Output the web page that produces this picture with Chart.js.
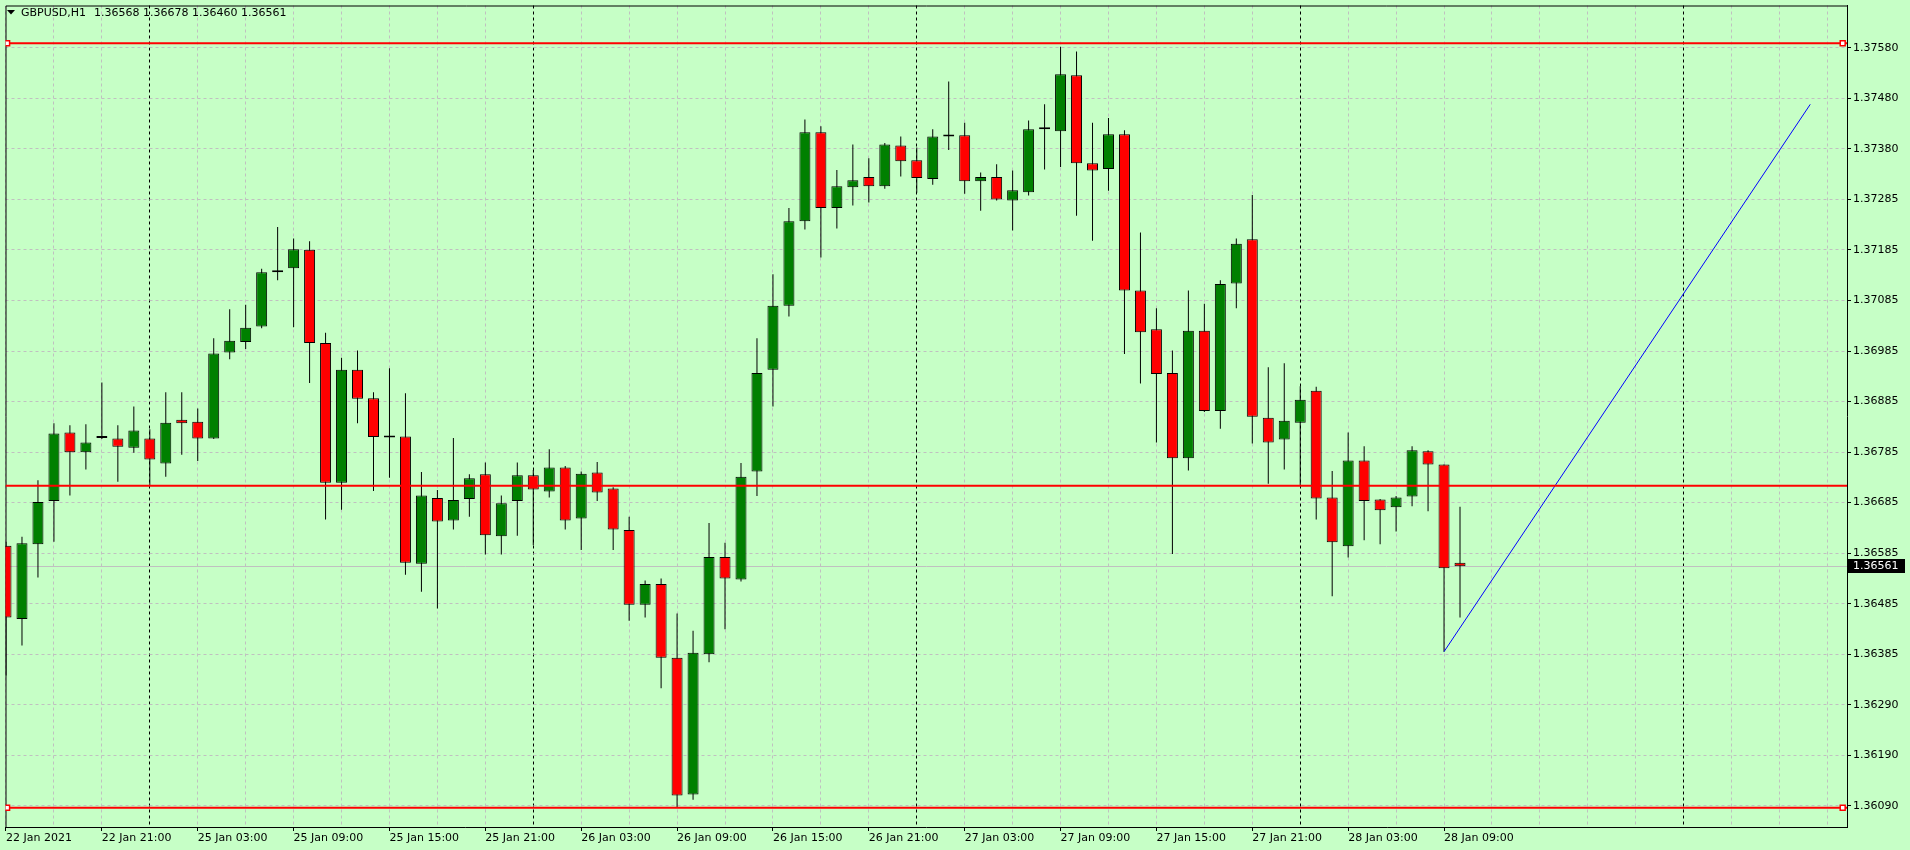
<!DOCTYPE html>
<html>
<head>
<meta charset="utf-8">
<script src="https://cdn.jsdelivr.net/npm/chart.js@4.4.1/dist/chart.umd.min.js"></script>
<style>
    html, body { margin: 0; padding: 0; background: #c6ffc6; }
    #wrap { width: 1910px; height: 850px; }
</style>
</head>
<body>
<div id="wrap"><canvas id="gbpusd"></canvas></div>
<script>
// GBPUSD H1 bars, 22 Jan 15:00 .. 28 Jan 10:00
const openPrices = [
    1.36601, 1.36457, 1.36604, 1.36689, 1.36824, 1.36785, 1.36813, 1.36812, 1.36794, 1.36812,
    1.36763, 1.36849, 1.36845, 1.36812, 1.36981, 1.37002, 1.37032, 1.37139, 1.37147, 1.37183,
    1.37000, 1.36725, 1.36947, 1.36891, 1.36814, 1.36816, 1.36566, 1.36695, 1.36651, 1.36693,
    1.36742, 1.36620, 1.36689, 1.36740, 1.36708, 1.36755, 1.36655, 1.36745, 1.36714, 1.36632,
    1.36485, 1.36526, 1.36381, 1.36112, 1.36388, 1.36579, 1.36535, 1.36747, 1.36947, 1.37073,
    1.37239, 1.37414, 1.37265, 1.37306, 1.37326, 1.37308, 1.37388, 1.37359, 1.37322, 1.37406,
    1.37408, 1.37318, 1.37326, 1.37280, 1.37296, 1.37420, 1.37416, 1.37526, 1.37353, 1.37342,
    1.37410, 1.37103, 1.37027, 1.36941, 1.36773, 1.37024, 1.36866, 1.37117, 1.37204, 1.36853,
    1.36810, 1.36843, 1.36906, 1.36696, 1.36600, 1.36769, 1.36692, 1.36677, 1.36698, 1.36787,
    1.36761, 1.36568
];
const highPrices = [
    1.36609, 1.36619, 1.36730, 1.36842, 1.36838, 1.36840, 1.36922, 1.36838, 1.36875, 1.36830,
    1.36903, 1.36903, 1.36871, 1.37009, 1.37066, 1.37075, 1.37146, 1.37228, 1.37205, 1.37200,
    1.37020, 1.36971, 1.36985, 1.36903, 1.36950, 1.36901, 1.36746, 1.36711, 1.36813, 1.36742,
    1.36765, 1.36700, 1.36765, 1.36750, 1.36791, 1.36758, 1.36747, 1.36766, 1.36716, 1.36658,
    1.36533, 1.36537, 1.36468, 1.36434, 1.36646, 1.36607, 1.36764, 1.37009, 1.37135, 1.37265,
    1.37439, 1.37426, 1.37340, 1.37390, 1.37363, 1.37393, 1.37406, 1.37384, 1.37420, 1.37514,
    1.37433, 1.37335, 1.37351, 1.37339, 1.37437, 1.37469, 1.37582, 1.37573, 1.37433, 1.37442,
    1.37418, 1.37217, 1.37068, 1.36985, 1.37103, 1.37077, 1.37123, 1.37205, 1.37291, 1.36952,
    1.36960, 1.36915, 1.36914, 1.36748, 1.36824, 1.36797, 1.36693, 1.36699, 1.36797, 1.36789,
    1.36761, 1.36678
];
const lowPrices = [
    1.36346, 1.36405, 1.36539, 1.36609, 1.36700, 1.36751, 1.36811, 1.36727, 1.36784, 1.36720,
    1.36737, 1.36780, 1.36768, 1.36811, 1.36968, 1.36988, 1.37029, 1.37123, 1.37031, 1.36921,
    1.36653, 1.36672, 1.36842, 1.36709, 1.36735, 1.36544, 1.36511, 1.36478, 1.36633, 1.36658,
    1.36584, 1.36584, 1.36621, 1.36602, 1.36696, 1.36633, 1.36593, 1.36689, 1.36593, 1.36454,
    1.36460, 1.36321, 1.36087, 1.36102, 1.36372, 1.36437, 1.36531, 1.36699, 1.36875, 1.37052,
    1.37223, 1.37168, 1.37225, 1.37270, 1.37276, 1.37303, 1.37327, 1.37295, 1.37311, 1.37379,
    1.37293, 1.37260, 1.37280, 1.37221, 1.37290, 1.37341, 1.37346, 1.37250, 1.37201, 1.37299,
    1.36978, 1.36920, 1.36804, 1.36585, 1.36749, 1.36864, 1.36831, 1.37068, 1.36802, 1.36723,
    1.36751, 1.36719, 1.36653, 1.36502, 1.36578, 1.36612, 1.36604, 1.36629, 1.36679, 1.36669,
    1.36393, 1.36460
];
const closePrices = [
    1.36460, 1.36606, 1.36687, 1.36822, 1.36785, 1.36804, 1.36813, 1.36796, 1.36828, 1.36771,
    1.36843, 1.36842, 1.36812, 1.36979, 1.37004, 1.37030, 1.37139, 1.37143, 1.37184, 1.37000,
    1.36725, 1.36947, 1.36890, 1.36815, 1.36817, 1.36568, 1.36700, 1.36649, 1.36691, 1.36734,
    1.36622, 1.36685, 1.36740, 1.36712, 1.36755, 1.36651, 1.36743, 1.36706, 1.36633, 1.36485,
    1.36526, 1.36381, 1.36110, 1.36391, 1.36579, 1.36537, 1.36737, 1.36941, 1.37073, 1.37239,
    1.37414, 1.37265, 1.37308, 1.37320, 1.37308, 1.37390, 1.37357, 1.37324, 1.37406, 1.37406,
    1.37318, 1.37326, 1.37282, 1.37300, 1.37420, 1.37420, 1.37528, 1.37353, 1.37339, 1.37410,
    1.37103, 1.37021, 1.36939, 1.36773, 1.37024, 1.36866, 1.37116, 1.37195, 1.36855, 1.36804,
    1.36847, 1.36888, 1.36694, 1.36608, 1.36769, 1.36689, 1.36671, 1.36696, 1.36789, 1.36761,
    1.36557, 1.36561
];

// time axis labels, one every 6 bars starting at bar 0
const timeLabels = [
    '22 Jan 2021', '22 Jan 21:00', '25 Jan 03:00', '25 Jan 09:00', '25 Jan 15:00', '25 Jan 21:00',
    '26 Jan 03:00', '26 Jan 09:00', '26 Jan 15:00', '26 Jan 21:00', '27 Jan 03:00', '27 Jan 09:00',
    '27 Jan 15:00', '27 Jan 21:00', '28 Jan 03:00', '28 Jan 09:00'
];
// bars where a new day starts (period separators), incl. the future one
const daySeparators = [9, 33, 57, 81, 105];

// price scale labels, bottom to top
const priceTicks = [
    '1.36090', '1.36190', '1.36290', '1.36385', '1.36485', '1.36585', '1.36685', '1.36785',
    '1.36885', '1.36985', '1.37085', '1.37185', '1.37285', '1.37380', '1.37480', '1.37580'
];

// chart objects
const levelPrices = [1.37589, 1.36719, 1.36086];
const trendBars = [90, 112.92];
const trendPrices = [1.36393, 1.37469];

const symbolName = 'GBPUSD,H1';

const X_MIN = -0.03125;
const X_MAX = 115.22;
const Y_MIN = 1.360483;
const Y_MAX = 1.376633;
const FONT = '11px "DejaVu Sans"';

const lastIdx = closePrices.length - 1;
const bidPrice = closePrices[lastIdx];

const bodies = openPrices.map((o, i) => ({ x: i, y: [o, closePrices[i]] }));
const wicks = lowPrices.map((l, i) => ({ x: i, y: [l, highPrices[i]] }));
const bodyColors = openPrices.map((o, i) => closePrices[i] > o ? '#008000' : '#ff0000');

const levelSets = levelPrices.map(p => ({
    type: 'line',
    data: [{ x: X_MIN, y: p }, { x: X_MAX, y: p }],
    borderColor: '#ff0000',
    borderWidth: 2,
    pointRadius: 0,
    order: 0
}));

// small square handles on the outer horizontal lines
const handlePoints = [];
[levelPrices[0], levelPrices[2]].forEach(p => {
    handlePoints.push({ x: 0.07, y: p }, { x: 114.95, y: p });
});

// no label padding: keep the price window at fixed edges
function noPad(s) {
    s.paddingLeft = 0;
    s.paddingRight = 0;
    s.paddingTop = 0;
    s.paddingBottom = 0;
}

const mtPlugin = {
    id: 'mtDecor',
    beforeDatasetsDraw(chart) {
        const { ctx, chartArea, scales } = chart;
        ctx.save();
        // bid line
        const yb = Math.round(scales.y.getPixelForValue(bidPrice)) + 0.5;
        ctx.strokeStyle = '#c0c0c0';
        ctx.lineWidth = 1;
        ctx.beginPath();
        ctx.moveTo(chartArea.left, yb);
        ctx.lineTo(chartArea.right, yb);
        ctx.stroke();
        // left and top border of the price window
        ctx.strokeStyle = '#000';
        ctx.beginPath();
        ctx.moveTo(chartArea.left + 0.5, chartArea.bottom);
        ctx.lineTo(chartArea.left + 0.5, chartArea.top + 0.5);
        ctx.lineTo(chartArea.right, chartArea.top + 0.5);
        ctx.stroke();
        ctx.restore();
    },
    afterDraw(chart) {
        const { ctx, chartArea, scales } = chart;
        ctx.save();
        ctx.font = FONT;
        ctx.textBaseline = 'middle';
        // current price tag on the axis
        const yb = Math.round(scales.y.getPixelForValue(bidPrice));
        ctx.fillStyle = '#000';
        ctx.fillRect(chartArea.right + 1, yb - 7, 57, 14);
        ctx.fillStyle = '#fff';
        ctx.textAlign = 'left';
        ctx.fillText(bidPrice.toFixed(5), chartArea.right + 6, yb);
        // header: symbol and last bar OHLC
        ctx.fillStyle = '#000';
        ctx.beginPath();
        ctx.moveTo(7, 10);
        ctx.lineTo(15, 10);
        ctx.lineTo(11, 14.5);
        ctx.closePath();
        ctx.fill();
        ctx.fillText(symbolName, 21, 13);
        const ohlc = [openPrices[lastIdx], highPrices[lastIdx], lowPrices[lastIdx], closePrices[lastIdx]]
            .map(v => v.toFixed(5)).join(' ');
        ctx.fillText(ohlc, 94, 13);
        ctx.restore();
    }
};

const ctx = document.getElementById('gbpusd').getContext('2d');

new Chart(ctx, {
    type: 'bar',
    data: {
        datasets: [
            {
                label: 'body',
                data: bodies,
                backgroundColor: bodyColors,
                borderColor: '#000',
                borderWidth: 1,
                borderSkipped: false,
                inflateAmount: 0,
                barThickness: 11,
                minBarLength: 2,
                grouped: false,
                order: 1
            },
            {
                label: 'wick',
                data: wicks,
                backgroundColor: '#000',
                borderWidth: 0,
                inflateAmount: 0,
                barThickness: 1,
                grouped: false,
                order: 2
            },
            ...levelSets,
            {
                type: 'line',
                label: 'trend',
                data: trendBars.map((b, i) => ({ x: b, y: trendPrices[i] })),
                borderColor: '#0000ff',
                borderWidth: 1,
                pointRadius: 0,
                order: 0
            },
            {
                type: 'line',
                label: 'handles',
                data: handlePoints,
                showLine: false,
                pointStyle: 'rect',
                pointRadius: 3.5,
                pointBorderWidth: 1.5,
                pointBackgroundColor: '#ffffff',
                pointBorderColor: '#ff0000',
                order: -1
            }
        ]
    },
    options: {
        responsive: true,
        maintainAspectRatio: false,
        animation: false,
        events: [],
        layout: {
            padding: { left: 3, top: 3, right: 0, bottom: 0 }
        },
        scales: {
            x: {
                type: 'linear',
                min: X_MIN,
                max: X_MAX,
                offset: false,
                afterFit: s => { s.height = 23; noPad(s); },
                afterBuildTicks: s => {
                    const t = [];
                    for (let i = 0; i <= 114; i += 3) t.push({ value: i });
                    s.ticks = t;
                },
                grid: {
                    offset: false,
                    color: c => daySeparators.includes(c.tick && c.tick.value) ? '#000000' : '#c0c0c0',
                    tickColor: c => {
                        const v = c.tick ? c.tick.value : -1;
                        return (v % 6 === 0 && v / 6 < timeLabels.length) ? '#000000' : 'rgba(0,0,0,0)';
                    },
                    tickLength: 4
                },
                border: { display: true, color: '#000', width: 1, dash: [3, 3] },
                ticks: {
                    autoSkip: false,
                    maxRotation: 0,
                    minRotation: 0,
                    align: 'start',
                    padding: 1,
                    color: '#000',
                    font: { family: 'DejaVu Sans', size: 11 },
                    callback: value => (value % 6 === 0 && value / 6 < timeLabels.length) ? timeLabels[value / 6] : ''
                }
            },
            y: {
                type: 'linear',
                position: 'right',
                min: Y_MIN,
                max: Y_MAX,
                afterFit: s => { s.width = 63; noPad(s); },
                afterBuildTicks: s => {
                    const lo = parseFloat(priceTicks[0]);
                    const hi = parseFloat(priceTicks[priceTicks.length - 1]);
                    const step = (hi - lo) / (priceTicks.length - 1);
                    s.ticks = priceTicks.map((_, i) => ({ value: lo + i * step }));
                },
                grid: {
                    color: '#c0c0c0',
                    tickColor: '#000',
                    tickLength: 4
                },
                border: { display: true, color: '#000', width: 1, dash: [3, 3] },
                ticks: {
                    autoSkip: false,
                    padding: 2,
                    color: '#000',
                    font: { family: 'DejaVu Sans', size: 11 },
                    callback: (value, index) => priceTicks[index]
                }
            }
        },
        plugins: {
            legend: { display: false },
            tooltip: { enabled: false },
            title: { display: false }
        }
    },
    plugins: [mtPlugin]
});
</script>
</body>
</html>
